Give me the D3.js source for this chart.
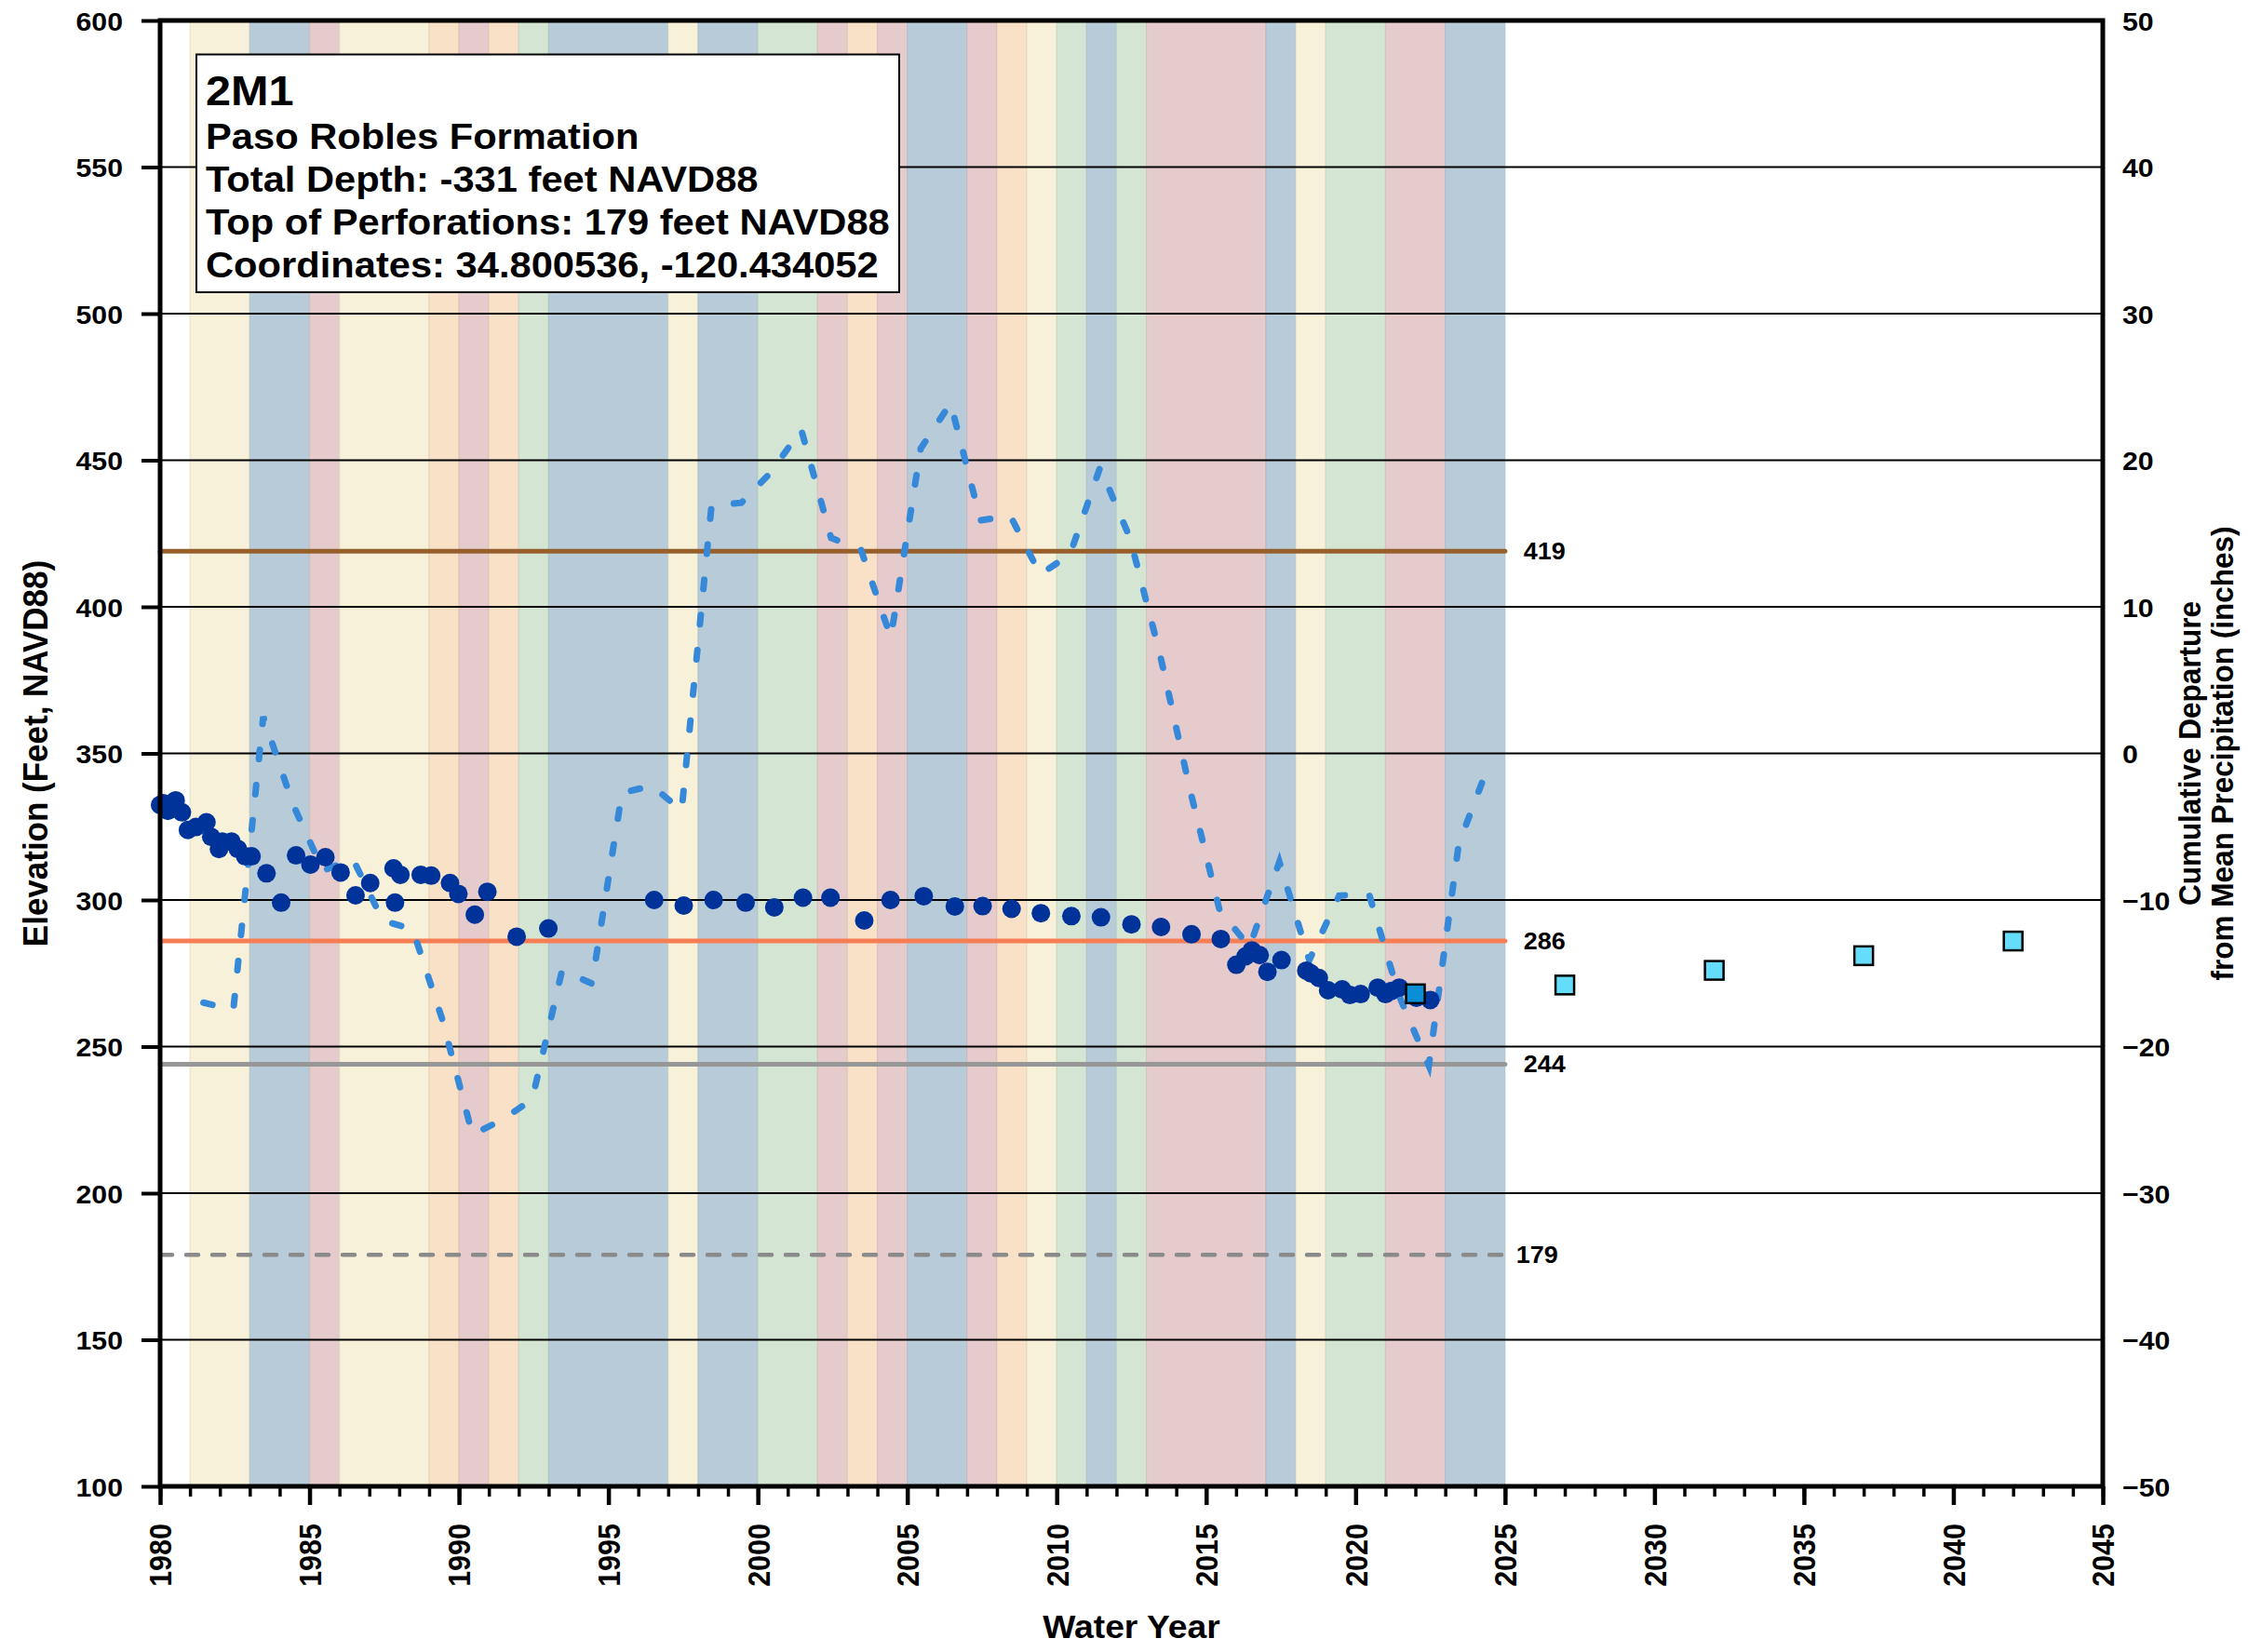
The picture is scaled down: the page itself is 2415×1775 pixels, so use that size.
<!DOCTYPE html>
<html>
<head>
<meta charset="utf-8">
<script src="https://cdn.jsdelivr.net/npm/d3@7"></script>
<style>
  html, body { margin: 0; padding: 0; background: #ffffff; }
  svg { display: block; }
  text { font-family: "Liberation Sans", Arial, Helvetica, sans-serif; font-weight: bold; fill: #000; }
</style>
</head>
<body>
<svg id="chart" width="2415" height="1775"></svg>
<script>
// ---- Well 2M1 : measured groundwater elevation (feet NAVD88) ----
const obsYear = [1980.0, 1980.1, 1980.26, 1980.4, 1980.52, 1980.73, 1980.93, 1981.2, 1981.55, 1981.71,
  1981.97, 1982.08, 1982.39, 1982.6, 1982.85, 1983.06, 1983.56, 1984.05, 1984.55, 1985.03,
  1985.53, 1986.04, 1986.54, 1987.03, 1987.81, 1987.86, 1988.04, 1988.72, 1989.07, 1989.7,
  1989.98, 1990.53, 1990.95, 1991.93, 1992.99, 1996.53, 1997.52, 1998.52, 1999.59, 2000.55,
  2001.51, 2002.43, 2003.56, 2004.44, 2005.55, 2006.59, 2007.52, 2008.49, 2009.47, 2010.49,
  2011.48, 2012.5, 2013.49, 2014.51, 2015.49, 2016.01, 2016.32, 2016.53, 2016.79, 2017.05,
  2017.52, 2018.35, 2018.5, 2018.77, 2019.08, 2019.55, 2019.81, 2020.17, 2020.74, 2021.0,
  2021.2, 2021.46, 2022.03, 2022.5];
const obsElev = [332.4, 333, 330.4, 333, 334.0, 329.9, 323.9, 324.9, 326.5, 321.5,
  317.4, 319.9, 319.9, 317.4, 314.9, 314.9, 309.1, 299.1, 315.2, 312.1,
  314.6, 309.4, 301.6, 305.8, 310.8, 299.1, 308.6, 308.6, 308.3, 305.8,
  302.1, 295.0, 302.8, 287.5, 290.3, 300.0, 298.1, 300.0, 299.1, 297.5,
  300.8, 300.8, 293.0, 300.0, 301.3, 297.8, 297.9, 297.0, 295.5, 294.5,
  294.1, 291.7, 290.8, 288.3, 286.7, 277.9, 280.8, 282.8, 281.2, 275.5,
  279.5, 275.9, 275, 273.4, 269.2, 269.5, 267.6, 267.9, 270.1, 267.9,
  269, 270.1, 266.7, 265.9];

// 2022 reference measurement and interim milestones / objective
const baseYear = [2022];
const baseElev = [268];
const milestoneYear = [2027, 2032, 2037, 2042];
const milestoneElev = [271, 276, 281, 286];

// Cumulative departure from mean precipitation (inches)
const precipYear = [1981.45, 1982.45, 1983.45, 1984.45, 1985.45, 1986.45, 1987.45, 1988.45, 1989.45, 1990.45,
  1991.45, 1992.45, 1993.45, 1994.45, 1995.45, 1996.45, 1997.45, 1998.45, 1999.45, 2000.45,
  2001.45, 2002.45, 2003.45, 2004.45, 2005.45, 2006.45, 2007.45, 2008.45, 2009.45, 2010.45,
  2011.45, 2012.45, 2013.45, 2014.45, 2015.45, 2016.45, 2017.45, 2018.45, 2019.45, 2020.45,
  2021.45, 2022.45, 2023.45, 2024.45];
const precipDep = [-17.0, -17.5, 2.5, -3.5, -8.0, -7.2, -11.4, -12.0, -18.2, -26.0,
  -25.0, -23.6, -14.8, -15.7, -2.7, -2.2, -3.9, 16.9, 17.1, 19.2,
  22.1, 14.7, 13.9, 7.9, 20.8, 23.9, 15.9, 16.2, 12.2, 13.6,
  19.5, 14.7, 6.8, -2.4, -10.7, -13.2, -7.4, -14.1, -9.7, -9.6,
  -16.5, -21.3, -6.2, -0.8];

// Water year classification, 1981 - 2024
const wyYears = [1981, 1982, 1983, 1984, 1985, 1986, 1987, 1988, 1989, 1990,
  1991, 1992, 1993, 1994, 1995, 1996, 1997, 1998, 1999, 2000,
  2001, 2002, 2003, 2004, 2005, 2006, 2007, 2008, 2009, 2010,
  2011, 2012, 2013, 2014, 2015, 2016, 2017, 2018, 2019, 2020,
  2021, 2022, 2023, 2024];
const wyType = ["BN", "BN", "W", "W", "C", "BN", "BN", "BN", "D", "C",
  "D", "AN", "W", "W", "W", "W", "BN", "W", "W", "AN",
  "AN", "C", "D", "C", "W", "W", "C", "D", "BN", "AN",
  "W", "AN", "C", "C", "C", "C", "W", "BN", "AN", "AN",
  "C", "C", "W", "W"];

// Threshold levels (feet NAVD88)
const refLevels = [419, 286, 244, 179];

// Axis ticks
const elevTicks = [100, 150, 200, 250, 300, 350, 400, 450, 500, 550, 600];
const depTicks = [-50, -40, -30, -20, -10, 0, 10, 20, 30, 40, 50];
const yearMajor = [1980, 1985, 1990, 1995, 2000, 2005, 2010, 2015, 2020, 2025, 2030, 2035, 2040, 2045];

const infoLines = ["2M1", "Paso Robles Formation", "Total Depth: -331 feet NAVD88",
  "Top of Perforations: 179 feet NAVD88", "Coordinates: 34.800536, -120.434052"];

// ---- styles ----
const typeColor = { W: "#b8cbd9", AN: "#d4e6d3", BN: "#f8f1d9", D: "#f9e1c8", C: "#e5cbcc" };
const refStyle = {
  419: { color: "#975f2c", dash: null, w: 5, labelDx: 20 },
  286: { color: "#f67e55", dash: null, w: 5, labelDx: 20 },
  244: { color: "#979797", dash: null, w: 5, labelDx: 20 },
  179: { color: "#8a8a8a", dash: "13,15", w: 4.5, labelDx: 12 }
};
const SX = 1.08;   // horizontal widening of the lettering

const svg = d3.select("#chart");
const L = 172, R = 2259, T = 22, B = 1597;

const x = d3.scaleLinear().domain([1980, 2045]).range([L, R]);
const y = d3.scaleLinear().domain([100, 600]).range([B, T]);
const yR = d3.scaleLinear().domain([-50, 50]).range([B, T]);

// water-year bands (merge consecutive years of the same type)
const runs = [];
wyYears.forEach((yr, i) => {
  const last = runs[runs.length - 1];
  if (last && last.type === wyType[i] && last.end === yr) last.end = yr + 1;
  else runs.push({ type: wyType[i], start: yr, end: yr + 1 });
});
svg.append("g").selectAll("rect").data(runs).join("rect")
  .attr("x", d => x(d.start)).attr("width", d => x(d.end) - x(d.start))
  .attr("y", T).attr("height", B - T)
  .attr("fill", d => typeColor[d.type])
  .attr("stroke", d => d3.color(typeColor[d.type]).darker(0.35))
  .attr("stroke-opacity", 0.5).attr("stroke-width", 1.2);

// horizontal gridlines
svg.append("g").selectAll("line").data(elevTicks.filter(v => v > 100 && v < 600)).join("line")
  .attr("x1", L).attr("x2", R).attr("y1", d => y(d)).attr("y2", d => y(d))
  .attr("stroke", "#000").attr("stroke-width", 2);

// threshold lines with labels
const refG = svg.append("g");
refLevels.forEach(v => {
  const s = refStyle[v];
  refG.append("line")
    .attr("x1", x(1980)).attr("x2", x(2025)).attr("y1", y(v)).attr("y2", y(v))
    .attr("stroke", s.color).attr("stroke-width", s.w)
    .attr("stroke-linecap", "round")
    .attr("stroke-dasharray", s.dash);
  refG.append("text")
    .attr("transform", `translate(${x(2025) + s.labelDx},${y(v)}) scale(${SX},1)`)
    .attr("dy", "0.36em").style("font-size", "25px")
    .text(v);
});

// cumulative precipitation departure
const precip = precipYear.map((t, i) => ({ t, p: precipDep[i] }));
svg.append("path").datum(precip)
  .attr("d", d3.line().x(d => x(d.t)).y(d => yR(d.p)))
  .attr("fill", "none").attr("stroke", "#3688d9").attr("stroke-width", 7)
  .attr("stroke-linecap", "round").attr("stroke-dasharray", "10,28");

// measured groundwater elevations
const obs = obsYear.map((t, i) => ({ t, v: obsElev[i] }));
svg.append("g").selectAll("circle").data(obs).join("circle")
  .attr("cx", d => x(d.t)).attr("cy", d => y(d.v)).attr("r", 10)
  .attr("fill", "#003399");

// 2022 value and milestones
const SQ = 20;
svg.append("g").selectAll("rect").data(baseYear.map((t, i) => ({ t, v: baseElev[i] }))).join("rect")
  .attr("x", d => x(d.t) - SQ / 2).attr("y", d => y(d.v) - SQ / 2)
  .attr("width", SQ).attr("height", SQ)
  .attr("fill", "#0a8fd6").attr("stroke", "#000").attr("stroke-width", 2.5);
svg.append("g").selectAll("rect").data(milestoneYear.map((t, i) => ({ t, v: milestoneElev[i] }))).join("rect")
  .attr("x", d => x(d.t) - SQ / 2).attr("y", d => y(d.v) - SQ / 2)
  .attr("width", SQ).attr("height", SQ)
  .attr("fill", "#66dcfb").attr("stroke", "#000").attr("stroke-width", 2.5);

// left axis
const gL = svg.append("g").attr("transform", `translate(${L},0)`)
  .call(d3.axisLeft(y).tickValues(elevTicks).tickSize(20).tickFormat(d3.format("d")));
gL.select(".domain").remove();
gL.selectAll(".tick line").attr("stroke", "#000").attr("stroke-width", 4);
gL.selectAll(".tick text").attr("x", null).attr("dy", "0.36em")
  .attr("transform", `translate(-40,0) scale(${SX},1)`)
  .style("font-size", "28px").style("font-family", null);

// right axis
const gR = svg.append("g").attr("transform", `translate(${R},0)`)
  .call(d3.axisRight(yR).tickValues(depTicks).tickSize(0).tickFormat(d3.format("d")));
gR.select(".domain").remove();
gR.selectAll(".tick text").attr("x", null).attr("dy", "0.36em")
  .attr("transform", `translate(21,0) scale(${SX},1)`)
  .style("font-size", "28px").style("font-family", null);

// bottom axis: yearly minor ticks, 5-year major ticks
const gMinor = svg.append("g").attr("transform", `translate(0,${B})`)
  .call(d3.axisBottom(x).ticks(65).tickSize(11).tickFormat(""));
gMinor.select(".domain").remove();
gMinor.selectAll(".tick line").attr("stroke", "#000").attr("stroke-width", 3.5);
const gB = svg.append("g").attr("transform", `translate(0,${B})`)
  .call(d3.axisBottom(x).tickValues(yearMajor).tickSize(20).tickFormat(d3.format("d")));
gB.select(".domain").remove();
gB.selectAll(".tick line").attr("stroke", "#000").attr("stroke-width", 4.5);
gB.selectAll(".tick text").attr("y", null).attr("dy", "0.36em")
  .attr("text-anchor", "end")
  .attr("transform", `translate(0,40) rotate(-90) scale(1,${SX})`)
  .style("font-size", "30.5px").style("font-family", null);

// plot frame
svg.append("rect").attr("x", L).attr("y", T).attr("width", R - L).attr("height", B - T)
  .attr("fill", "none").attr("stroke", "#000").attr("stroke-width", 5);

// axis titles
svg.append("text")
  .attr("transform", `translate(51,${(T + B) / 2}) rotate(-90) scale(1,${SX})`)
  .attr("text-anchor", "middle").style("font-size", "35px")
  .text("Elevation (Feet, NAVD88)");
svg.append("text")
  .attr("transform", `translate(${(L + R) / 2},1760) scale(${SX},1)`)
  .attr("text-anchor", "middle").style("font-size", "34.5px")
  .text("Water Year");
svg.append("text")
  .attr("transform", `translate(2364,${(T + B) / 2}) rotate(-90) scale(1,${SX})`)
  .attr("text-anchor", "middle").style("font-size", "31.5px")
  .text("Cumulative Departure");
svg.append("text")
  .attr("transform", `translate(2399,${(T + B) / 2}) rotate(-90) scale(1,${SX})`)
  .attr("text-anchor", "middle").style("font-size", "31.5px")
  .text("from Mean Precipitation (inches)");

// well information box
const info = svg.append("g");
info.append("rect").attr("x", 211).attr("y", 58.5).attr("width", 755).attr("height", 255.5)
  .attr("fill", "#fff").attr("stroke", "#000").attr("stroke-width", 2);
const baselines = [113, 160, 206, 252, 298];
infoLines.forEach((s, i) => {
  info.append("text")
    .attr("transform", `translate(221,${baselines[i]}) scale(${SX},1)`)
    .style("font-size", i === 0 ? "45px" : "38.6px")
    .text(s);
});
</script>
</body>
</html>
